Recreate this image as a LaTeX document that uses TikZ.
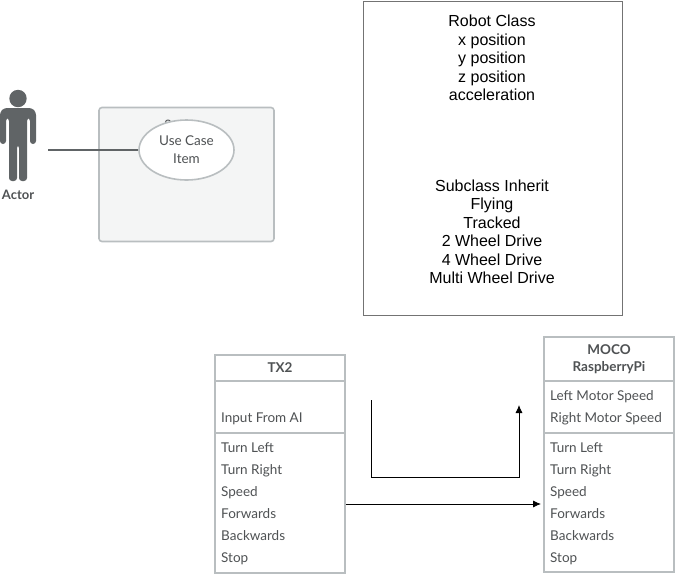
\documentclass[tikz,border=0pt]{standalone}
\usepackage{fontspec}
\setmainfont{Lato}
\newfontfamily\helv{Liberation Sans}
\usetikzlibrary{arrows.meta,shapes.geometric}
\definecolor{edgegrey}{HTML}{B9BEC0}
\definecolor{inkgrey}{HTML}{4F5254}
\definecolor{actorgrey}{HTML}{606466}
\definecolor{panelgrey}{HTML}{F4F5F5}
\begin{document}
\begin{tikzpicture}[x=1pt,y=-1pt]
\tikzset{
    classbox/.style={draw=edgegrey,line width=1.6pt,fill=white,minimum width=130pt,inner sep=0pt},
    row/.style={text=inkgrey,font=\fontsize{13.5}{15}\selectfont,anchor=base west,inner sep=0pt},
    title/.style={text=inkgrey,font=\fontsize{13.5}{15}\selectfont\bfseries,anchor=base,inner sep=0pt},
    note/.style={font=\helv\fontsize{16}{18.5}\selectfont,align=center,inner sep=0pt},
    link/.style={-{Latex[length=8pt,width=7pt]},line width=0.8pt}
}
\useasboundingbox (0,0) rectangle (675,574);

% robot class
\node[draw=black!55,line width=0.9pt,minimum width=259pt,minimum height=314pt,inner sep=0pt] (robot) at (493,158) {};
\node[note] (fields) at (492,57.9) {Robot Class\\x position\\y position\\z position\\acceleration};
\node[note] (subs) at (492,232) {Subclass Inherit\\Flying\\Tracked\\2 Wheel Drive\\4 Wheel Drive\\Multi Wheel Drive};

% actor
\fill[actorgrey,rounded corners=3pt] (0,112) -- (4,108) -- (32,108) -- (36,112) -- (36,144) -- (30,144) -- (30,118) -- (27,118)
    -- (27,181) -- (19,181) -- (19,145) -- (17,145) -- (17,181) -- (9,181) -- (9,118) -- (6,118) -- (6,144) -- (0,144) -- cycle;
\fill[actorgrey] (18,98.5) circle (8.7pt);
\node[title,font=\fontsize{13}{15}\selectfont\bfseries] (actor) at (18,199) {Actor};
\coordinate (hand) at (48,150);

% use case
\node[draw=edgegrey,line width=1.6pt,fill=panelgrey,rounded corners=3pt,minimum width=175pt,minimum height=134pt,inner sep=0pt] (system) at (186.5,174.5) {};
\node[text=inkgrey,font=\fontsize{13}{15}\selectfont,inner sep=0pt] (syslabel) at (168,124.5) {S};
\node[ellipse,draw=edgegrey,line width=1.6pt,fill=white,minimum width=95pt,minimum height=60pt,inner sep=0pt,
    align=center,text=inkgrey,font=\fontsize{13.5}{18}\selectfont] (item) at (186.5,150) {Use Case\\Item};
\draw[actorgrey,line width=1.6pt] (hand) -- (item.west);

% TX2
\node[classbox,minimum height=218pt] (tx) at (280,464) {};
\draw[edgegrey,line width=1.6pt] (215,381) -- (345,381);
\draw[edgegrey,line width=1.6pt] (215,433) -- (345,433);
\node[title] (txname) at (280,372) {TX2};
\node[row] (txin) at (221,422.5) {Input From AI};
\foreach \name [count=\i from 0] in {Turn Left,Turn Right,Speed,Forwards,Backwards,Stop}
    \node[row] (tx\i) at (221,452.5+22*\i) {\name};

% MOCO
\node[classbox,minimum height=235pt] (moco) at (609,454.5) {};
\draw[edgegrey,line width=1.6pt] (544,381) -- (674,381);
\draw[edgegrey,line width=1.6pt] (544,433) -- (674,433);
\node[title] (mconame) at (609,354) {MOCO};
\node[title] (mcosub) at (609,371.5) {RaspberryPi};
\node[row] (left) at (550,400.5) {Left Motor Speed};
\node[row] (right) at (550,422.5) {Right Motor Speed};
\foreach \name [count=\i from 0] in {Turn Left,Turn Right,Speed,Forwards,Backwards,Stop}
    \node[row] (mc\i) at (550,452.5+22*\i) {\name};

% edges
\coordinate (start) at (371,400);
\coordinate (corner) at (371,477);
\coordinate (bend) at (519,477);
\coordinate (stop) at (519,405);
\draw[link] (start) -- (corner) -- (bend) -- (stop);
\draw[link] (tx.east |- 0,504) -- (541,504);
\end{tikzpicture}
\end{document}
